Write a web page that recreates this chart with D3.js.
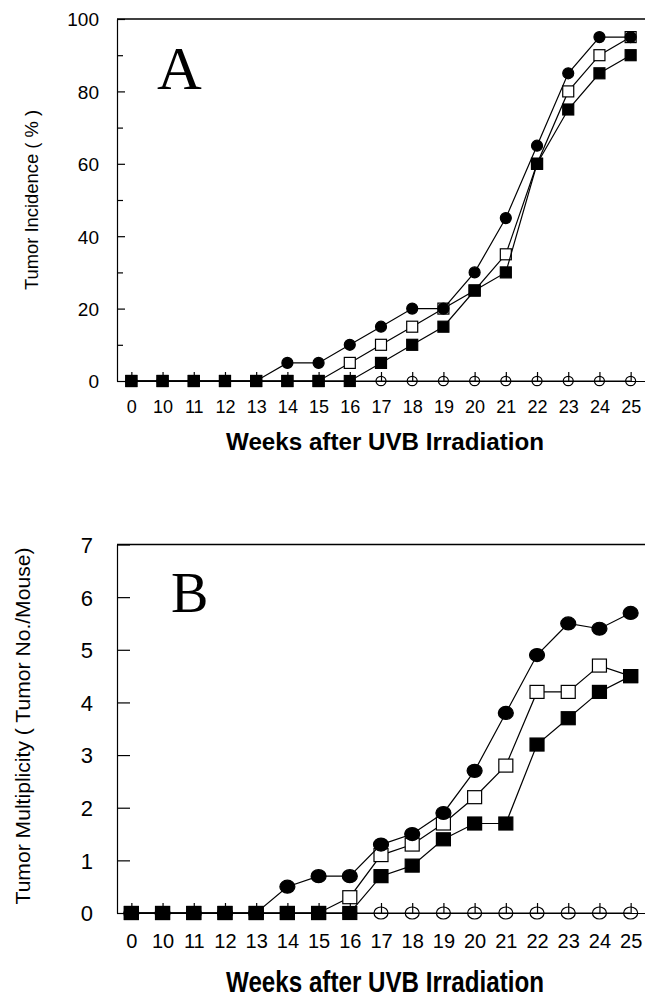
<!DOCTYPE html>
<html>
<head>
<meta charset="utf-8">
<script src="https://cdn.jsdelivr.net/npm/d3@7"></script>
<style>
  body { margin: 0; background: #fff; }
  svg { display: block; }
</style>
</head>
<body>
<div id="chart"></div>
<script>
// Week categories on the x axis
const weeks = ["0", "10", "11", "12", "13", "14", "15", "16", "17", "18", "19", "20", "21", "22", "23", "24", "25"];

// Panel A: tumor incidence (%)
const incOpenCircle   = [0, 0, 0, 0, 0, 0, 0, 0, 0, 0, 0, 0, 0, 0, 0, 0, 0];
const incOpenSquare   = [0, 0, 0, 0, 0, 0, 0, 5, 10, 15, 20, 25, 35, 60, 80, 90, 95];
const incFilledCircle = [0, 0, 0, 0, 0, 5, 5, 10, 15, 20, 20, 30, 45, 65, 85, 95, 95];
const incFilledSquare = [0, 0, 0, 0, 0, 0, 0, 0, 5, 10, 15, 25, 30, 60, 75, 85, 90];
const incTicks = [0, 20, 40, 60, 80, 100];
const incMinorTicks = [10, 30, 50, 70, 90];

// Panel B: tumor multiplicity (tumor no./mouse)
const mulOpenCircle   = [0, 0, 0, 0, 0, 0, 0, 0, 0, 0, 0, 0, 0, 0, 0, 0, 0];
const mulOpenSquare   = [0, 0, 0, 0, 0, 0, 0, 0.3, 1.1, 1.3, 1.7, 2.2, 2.8, 4.2, 4.2, 4.7, 4.5];
const mulFilledCircle = [0, 0, 0, 0, 0, 0.5, 0.7, 0.7, 1.3, 1.5, 1.9, 2.7, 3.8, 4.9, 5.5, 5.4, 5.7];
const mulFilledSquare = [0, 0, 0, 0, 0, 0, 0, 0, 0.7, 0.9, 1.4, 1.7, 1.7, 3.2, 3.7, 4.2, 4.5];
const mulTicks = [0, 1, 2, 3, 4, 5, 6, 7];

const W = 645, H = 997;
const font = "'Liberation Sans', Arial, sans-serif";

const svg = d3.select("#chart").append("svg")
  .attr("width", W)
  .attr("height", H);

function drawPanel(p) {
  const g = svg.append("g");

  const x = d3.scalePoint()
    .domain(weeks)
    .range([117, 645])
    .padding(0.46);
  const y = d3.scaleLinear()
    .domain([0, p.yMax])
    .range([p.y0, p.y1]);

  // series: line first, then its markers
  p.series.forEach(s => {
    const pts = weeks.map((w, i) => ({ w: w, v: s.values[i] }));
    g.append("path")
      .datum(pts)
      .attr("fill", "none")
      .attr("stroke", "#000")
      .attr("stroke-width", 1.2)
      .attr("d", d3.line().x(d => x(d.w)).y(d => y(d.v)));

    const m = g.append("g").selectAll("*").data(pts).enter();
    if (s.shape === "square") {
      m.append("rect")
        .attr("x", d => x(d.w) - p.sq[0] / 2)
        .attr("y", d => y(d.v) - p.sq[1] / 2)
        .attr("width", p.sq[0])
        .attr("height", p.sq[1])
        .attr("fill", s.filled ? "#000" : "#fff")
        .attr("stroke", "#000")
        .attr("stroke-width", 1.2);
    } else {
      const r = s.filled ? p.dot : p.ring;
      m.append("ellipse")
        .attr("cx", d => x(d.w))
        .attr("cy", d => y(d.v))
        .attr("rx", r[0])
        .attr("ry", r[1])
        .attr("fill", s.filled ? "#000" : "none")
        .attr("stroke", "#000")
        .attr("stroke-width", 1.2);
    }
  });

  // frame top
  g.append("line")
    .attr("x1", 117).attr("x2", W)
    .attr("y1", y(p.yMax)).attr("y2", y(p.yMax))
    .attr("stroke", "#000")
    .attr("stroke-width", 1.4);

  // y axis, ticks pointing inward
  const ya = g.append("g")
    .attr("transform", "translate(117,0)")
    .call(d3.axisLeft(y).tickValues(p.yTicks).tickFormat(d3.format("d"))
      .tickSize(-p.tickLen).tickSizeOuter(0).tickPadding(p.yPad));
  ya.selectAll("text")
    .attr("font-family", font)
    .attr("font-size", p.yFont)
    .attr("dy", "0.36em");
  if (p.minor) {
    g.append("g")
      .attr("transform", "translate(117,0)")
      .call(d3.axisLeft(y).tickValues(p.minor).tickSize(-p.minorLen).tickFormat(""))
      .call(a => a.select(".domain").remove());
  }

  // x axis along zero, ticks pointing up
  const xa = g.append("g")
    .attr("transform", `translate(0,${p.y0})`)
    .call(d3.axisBottom(x).tickSize(-p.xTickLen).tickSizeOuter(0).tickPadding(p.xPad));
  xa.selectAll("text")
    .attr("font-family", font)
    .attr("font-size", p.xFont);

  g.selectAll(".domain, .tick line")
    .attr("stroke", "#000")
    .attr("stroke-width", 1.2);

  // axis titles
  g.append("text")
    .attr("x", 385)
    .attr("y", p.titleY)
    .attr("text-anchor", "middle")
    .attr("font-family", font)
    .attr("font-weight", "bold")
    .attr("font-size", p.titleFont)
    .attr("textLength", 318)
    .attr("lengthAdjust", "spacingAndGlyphs")
    .text("Weeks after UVB Irradiation");

  g.append("text")
    .attr("transform", `translate(${p.yLabX},${p.yLabY}) rotate(-90)`)
    .attr("text-anchor", "middle")
    .attr("font-family", font)
    .attr("font-size", p.yLabFont)
    .attr("textLength", p.yLabLen)
    .attr("lengthAdjust", "spacingAndGlyphs")
    .text(p.yLabel);

  // panel letter
  g.append("text")
    .attr("x", p.letterX)
    .attr("y", p.letterY)
    .attr("font-family", "'Liberation Serif', 'Times New Roman', serif")
    .attr("font-size", p.letterFont)
    .text(p.letter);
}

drawPanel({
  yMax: 100, y0: 381, y1: 19,
  yTicks: incTicks, minor: incMinorTicks, tickLen: 8, minorLen: 6,
  yFont: 19, yPad: 18, xFont: 18, xTickLen: 9, xPad: 19,
  sq: [11, 11], dot: [5.5, 5.5], ring: [5, 4.7],
  series: [
    { values: incOpenCircle, shape: "circle", filled: false },
    { values: incOpenSquare, shape: "square", filled: false },
    { values: incFilledCircle, shape: "circle", filled: true },
    { values: incFilledSquare, shape: "square", filled: true }
  ],
  titleY: 450, titleFont: 23,
  yLabel: "Tumor Incidence ( % )", yLabX: 38, yLabY: 200, yLabFont: 18, yLabLen: 180,
  letter: "A", letterX: 157, letterY: 89, letterFont: 62
});

drawPanel({
  yMax: 7, y0: 913, y1: 544.5,
  yTicks: mulTicks, minor: null, tickLen: 13, minorLen: 0,
  yFont: 22, yPad: 24, xFont: 20, xTickLen: 10, xPad: 21,
  sq: [14, 13], dot: [7.5, 6.5], ring: [7, 6],
  series: [
    { values: mulOpenCircle, shape: "circle", filled: false },
    { values: mulOpenSquare, shape: "square", filled: false },
    { values: mulFilledCircle, shape: "circle", filled: true },
    { values: mulFilledSquare, shape: "square", filled: true }
  ],
  titleY: 992, titleFont: 30,
  yLabel: "Tumor Multiplicity ( Tumor No./Mouse)", yLabX: 30, yLabY: 726, yLabFont: 21, yLabLen: 357,
  letter: "B", letterX: 171, letterY: 612, letterFont: 56
});
</script>
</body>
</html>
